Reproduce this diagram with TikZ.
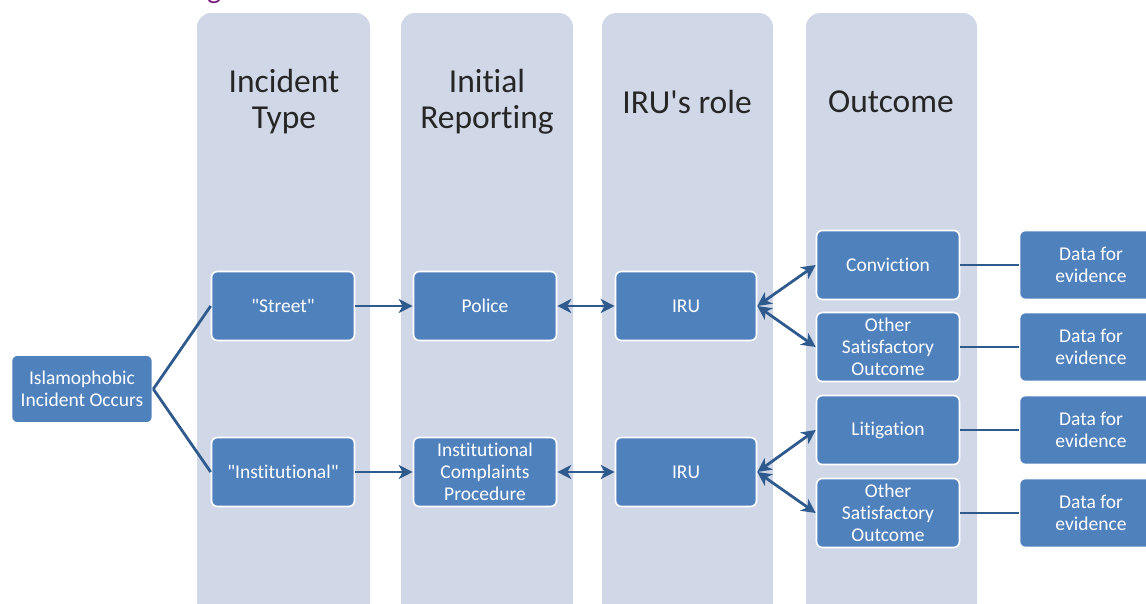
\documentclass[tikz,border=0pt]{standalone}
\usepackage{fontspec}
\setmainfont{Carlito}[Ligatures={TeXOff,CommonOff}]
\usetikzlibrary{arrows.meta}
\definecolor{lane}{HTML}{D0D8E7}
\definecolor{boxfill}{HTML}{4F81BD}
\definecolor{link}{HTML}{2F5A8E}
\definecolor{titlepurple}{HTML}{7B1F7E}
\definecolor{headtext}{HTML}{262626}
\tikzset{
  lanebox/.style={fill=lane, rounded corners=14pt},
  headlabel/.style={align=center, text=headtext, font=\fontsize{33.5}{36}\selectfont},
  stagebox/.style={draw=white, line width=1.6pt, fill=boxfill, rounded corners=6pt,
    minimum width=143pt, minimum height=69pt, inner sep=1pt, align=center,
    text=white, font=\fontsize{19.5}{22}\selectfont},
  plainlink/.style={draw=link, line width=2.8pt},
  tip/.tip={Stealth[length=14pt,width=14pt,inset=4pt]},
  onearrow/.style={plainlink, -tip},
  twoarrow/.style={plainlink, tip-tip}
}
\begin{document}
\begin{tikzpicture}[x=1pt,y=-1pt]
\useasboundingbox (0,0) rectangle (1146,603);
\clip (0,0) rectangle (1146,603);

% heading above, running off the top edge
\node[anchor=base west, text=titlepurple, font=\fontsize{30}{36}\selectfont, inner sep=0pt] (title) at (207,-2) {g};

% swim lanes
\fill[lanebox] (197,13) rectangle (370,618);
\fill[lanebox] (401,13) rectangle (573,618);
\fill[lanebox] (602,13) rectangle (773,618);
\fill[lanebox] (806,13) rectangle (977,618);

\node[headlabel] (h1) at (284,102) {Incident\\Type};
\node[headlabel] (h2) at (487,102) {Initial\\Reporting};
\node[headlabel] (h3) at (687,102) {IRU's role};
\node[headlabel] (h4) at (891,102) {Outcome};

% stage boxes
\node[stagebox, minimum width=141pt, minimum height=68pt] (start) at (82,389) {Islamophobic\\Incident Occurs};
\node[stagebox] (street) at (283,306) {"Street"};
\node[stagebox] (inst) at (283,472) {"Institutional"};
\node[stagebox] (police) at (485,306) {Police};
\node[stagebox] (icp) at (485,472) {Institutional\\Complaints\\Procedure};
\node[stagebox, minimum width=141pt] (iru1) at (686,306) {IRU};
\node[stagebox, minimum width=141pt] (iru2) at (686,472) {IRU};
\node[stagebox] (conv) at (888,265) {Conviction};
\node[stagebox] (other1) at (888,347) {Other\\Satisfactory\\Outcome};
\node[stagebox] (litig) at (888,430) {Litigation};
\node[stagebox] (other2) at (888,513) {Other\\Satisfactory\\Outcome};
\node[stagebox] (data1) at (1091,265) {Data for\\evidence};
\node[stagebox] (data2) at (1091,347) {Data for\\evidence};
\node[stagebox] (data3) at (1091,430) {Data for\\evidence};
\node[stagebox] (data4) at (1091,513) {Data for\\evidence};

% connectors
\draw[plainlink] (start.east) -- (street.west);
\draw[plainlink] (start.east) -- (inst.west);
\draw[onearrow] (street.east) -- (police.west);
\draw[onearrow] (inst.east) -- (icp.west);
\draw[twoarrow] (police.east) -- (iru1.west);
\draw[twoarrow] (icp.east) -- (iru2.west);
\draw[twoarrow] (iru1.east) -- (conv.west);
\draw[twoarrow] (iru1.east) -- (other1.west);
\draw[twoarrow] (iru2.east) -- (litig.west);
\draw[twoarrow] (iru2.east) -- (other2.west);
\draw[plainlink] (conv.east) -- (data1.west);
\draw[plainlink] (other1.east) -- (data2.west);
\draw[plainlink] (litig.east) -- (data3.west);
\draw[plainlink] (other2.east) -- (data4.west);
\end{tikzpicture}
\end{document}
